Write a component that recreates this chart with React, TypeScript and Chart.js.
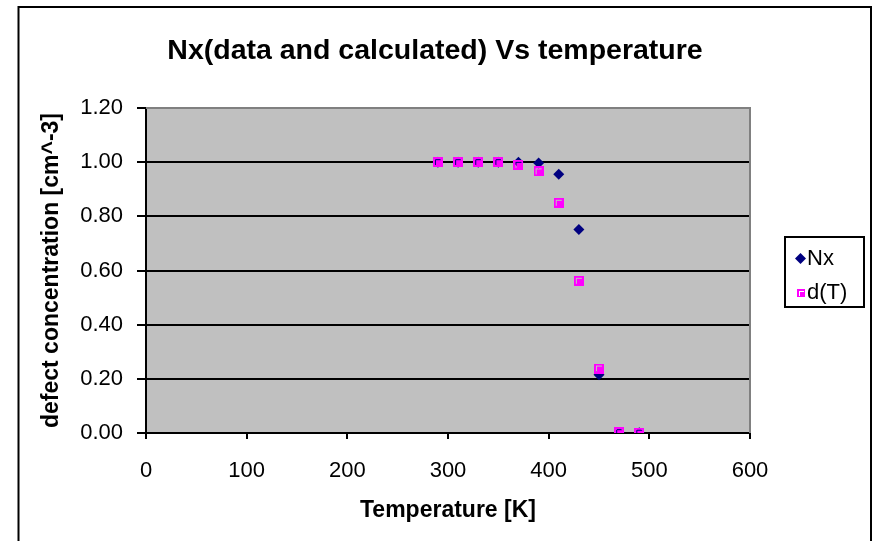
import React, { useEffect, useRef } from "react";
import { Chart, registerables } from "chart.js";

Chart.register(...registerables);

const temperatures = [290, 310, 330, 350, 370, 390, 410, 430, 450, 470, 490];
const nxValues = [1.0, 1.0, 1.0, 1.0, 1.0, 0.997, 0.955, 0.751, 0.215, 0.002, 0.001];
const dTValues = [1.0, 1.0, 1.0, 1.0, 0.99, 0.966, 0.85, 0.562, 0.238, 0.003, 0.001];
const seriesNames = ["Nx", "d(T)"];
const chartTitle = "Nx(data and calculated) Vs temperature";
const xTitle = "Temperature [K]";
const yTitle = "defect concentration [cm^-3]";

const FONT = "'Liberation Sans', Arial, sans-serif";
const NAVY = "#000080";
const MAGENTA = "#FF00FF";

function makeSquare(size: number, off: number, len: number): HTMLCanvasElement {
  const c = document.createElement("canvas");
  c.width = size;
  c.height = size;
  const g = c.getContext("2d")!;
  g.fillStyle = MAGENTA;
  g.fillRect(0, 0, size, size);
  g.clearRect(off, off, len, 1);
  g.clearRect(off, off, 1, len);
  return c;
}

const decorPlugin = {
  id: "decor",
  beforeDraw(chart: any) {
    const { ctx, chartArea: a } = chart;
    ctx.save();
    ctx.fillStyle = "#ffffff";
    ctx.fillRect(0, 0, chart.width, chart.height);
    ctx.fillStyle = "#C0C0C0";
    ctx.fillRect(a.left, a.top, a.right - a.left, a.bottom - a.top);
    ctx.restore();
  },
  beforeDatasetsDraw(chart: any) {
    const { ctx, chartArea: a } = chart;
    ctx.save();
    ctx.strokeStyle = "#808080";
    ctx.lineWidth = 2;
    ctx.beginPath();
    ctx.moveTo(a.left, a.top);
    ctx.lineTo(a.right, a.top);
    ctx.lineTo(a.right, a.bottom);
    ctx.stroke();
    ctx.restore();
  },
  afterDraw(chart: any) {
    const { ctx } = chart;
    ctx.save();
    // outer border
    ctx.strokeStyle = "#000000";
    ctx.lineWidth = 2;
    ctx.strokeRect(18.5, 7, 852.5, 540);
    // title
    ctx.fillStyle = "#000000";
    ctx.font = `bold 28.5px ${FONT}`;
    ctx.textAlign = "center";
    ctx.textBaseline = "alphabetic";
    ctx.fillText(chartTitle, 435, 59);
    // legend
    ctx.fillStyle = "#ffffff";
    ctx.fillRect(785, 237, 79, 70);
    ctx.strokeStyle = "#000000";
    ctx.lineWidth = 2;
    ctx.strokeRect(785, 237, 79, 70);
    // diamond
    ctx.fillStyle = NAVY;
    ctx.beginPath();
    const dx = 800.5, dy = 258.5, r = 5.5;
    ctx.moveTo(dx, dy - r);
    ctx.lineTo(dx + r, dy);
    ctx.lineTo(dx, dy + r);
    ctx.lineTo(dx - r, dy);
    ctx.closePath();
    ctx.fill();
    // square
    ctx.drawImage(makeSquare(8, 2, 5), 797, 289);
    ctx.fillStyle = "#000000";
    ctx.font = `22px ${FONT}`;
    ctx.textAlign = "left";
    ctx.textBaseline = "middle";
    ctx.fillText(seriesNames[0], 807, 259);
    ctx.fillText(seriesNames[1], 807, 293);
    ctx.restore();
  },
};

export default function App() {
  const ref = useRef<HTMLCanvasElement>(null);
  useEffect(() => {
    const squareImg = makeSquare(10, 2, 6);
    const chart = new Chart(ref.current!, {
      type: "scatter",
      data: {
        datasets: [
          {
            label: seriesNames[0],
            data: temperatures.map((t, i) => ({ x: t, y: nxValues[i] })),
            pointStyle: "rectRot",
            pointRadius: 5.5,
            pointHoverRadius: 5.5,
            backgroundColor: NAVY,
            borderColor: NAVY,
            borderWidth: 0,
            order: 1,
          },
          {
            label: seriesNames[1],
            data: temperatures.map((t, i) => ({ x: t, y: dTValues[i] })),
            pointStyle: squareImg as any,
            pointRadius: 5,
            backgroundColor: MAGENTA,
            borderColor: MAGENTA,
            order: 0,
          },
        ],
      },
      options: {
        responsive: false,
        animation: false,
        events: [],
        layout: { padding: { left: 0, right: 125, top: 108, bottom: 0 } },
        plugins: {
          legend: { display: false },
          title: { display: false },
          tooltip: { enabled: false },
        },
        scales: {
          x: {
            type: "linear",
            min: 0,
            max: 600,
            afterFit: (s: any) => {
              s.height = 108;
            },
            ticks: {
              stepSize: 100,
              color: "#000000",
              padding: 19,
              font: { family: FONT, size: 22 },
            },
            grid: {
              drawOnChartArea: false,
              drawTicks: true,
              tickLength: 6,
              tickColor: "#000000",
              lineWidth: 2,
              color: "#000000",
            },
            border: { color: "#000000", width: 2 },
            title: {
              display: true,
              text: xTitle,
              color: "#000000",
              font: { family: FONT, size: 23, weight: "bold" },
              padding: { top: 0, bottom: 17 },
            },
          },
          y: {
            type: "linear",
            min: 0,
            max: 1.2,
            afterFit: (s: any) => {
              s.width = 146;
            },
            ticks: {
              stepSize: 0.2,
              color: "#000000",
              padding: 14,
              font: { family: FONT, size: 22 },
              callback: (v: any) => Number(v).toFixed(2),
            },
            grid: {
              color: (c: any) => (c.tick && c.tick.value > 1.19 ? "rgba(0,0,0,0)" : "#000000"),
              lineWidth: 2,
              tickLength: 9,
              tickColor: "#000000",
            },
            border: { color: "#000000", width: 2 },
            title: {
              display: true,
              text: yTitle,
              color: "#000000",
              font: { family: FONT, size: 23, weight: "bold" },
              padding: { top: 38, bottom: 0 },
            },
          },
        },
      },
      plugins: [decorPlugin],
    });
    return () => chart.destroy();
  }, []);
  return (
    <div style={{ position: "absolute", left: 0, top: 0, width: 875, height: 541 }}>
      <canvas ref={ref} width={875} height={541} style={{ width: 875, height: 541, display: "block" }} />
    </div>
  );
}
